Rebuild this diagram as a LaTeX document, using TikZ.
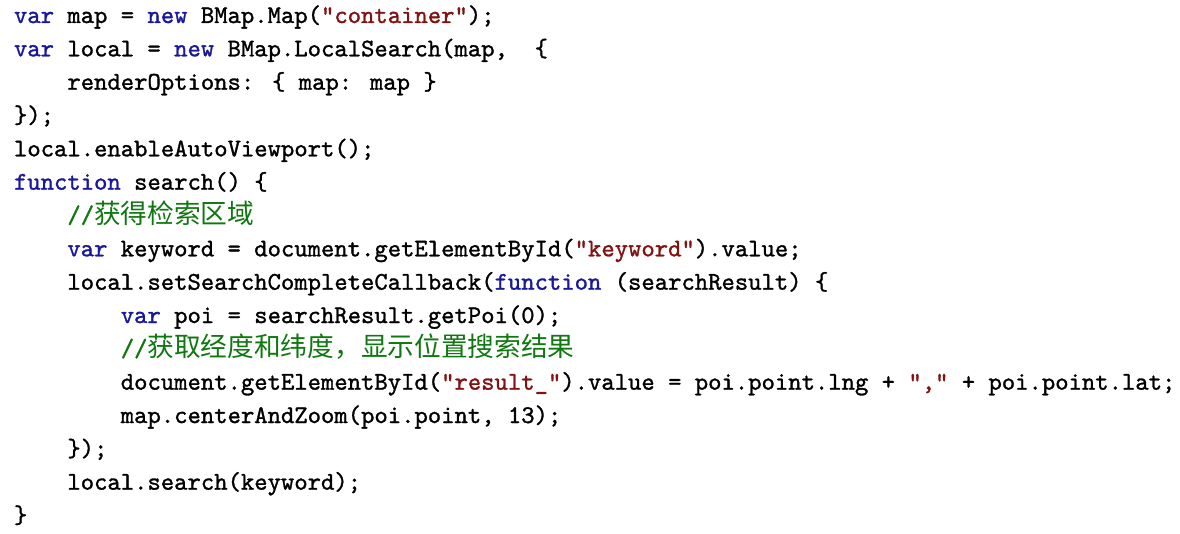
\documentclass[tikz,border=0pt]{standalone}
\usepackage{fontspec}
\newfontfamily\codettf{lmmono10-regular.otf}[FakeBold=1.2]
\newfontfamily\cjk{Noto Sans CJK SC}
\usetikzlibrary{positioning}

\definecolor{kwblue}{RGB}{24,24,156}
\definecolor{strred}{RGB}{130,18,18}
\definecolor{cmtgreen}{RGB}{16,120,16}
\newcommand{\kwd}[1]{\textcolor{kwblue}{#1}}
\newcommand{\strlit}[1]{\textcolor{strred}{#1}}
\newcommand{\cmt}[1]{\textcolor{cmtgreen}{#1}}
\newcommand{\cn}[1]{{\cjk\fontsize{13.35pt}{16pt}\selectfont #1}}

\begin{document}
\begin{tikzpicture}[x=1pt, y=1pt, node distance=16.667pt]
	\tikzset{codeline/.style={anchor=base west, inner sep=0pt, outer sep=0pt,
		font=\codettf\fontsize{12.714pt}{16pt}\selectfont},
		indent/.style={xshift=#1*26.7pt}}
	\fill[white] (0,0) rectangle (590,-267);
	\useasboundingbox (0,0) rectangle (590,-267);
	\node[codeline] (l1) at (7,-11.5) {\kwd{var} map = \kwd{new} BMap.Map(\strlit{"container"});};
	\node (l2) [below=of l1.base west, codeline] {\kwd{var} local = \kwd{new} BMap.LocalSearch(map,~~\{};
	\node (l3) [below=of l2.base west, codeline, indent=1] {renderOptions: \{ map: map \}};
	\node (l4) [below=of l3.base west, codeline, indent=-1] {\});};
	\node (l5) [below=of l4.base west, codeline] {local.enableAutoViewport();};
	\node (l6) [below=of l5.base west, codeline] {\kwd{function} search() \{};
	\node (l7) [below=of l6.base west, codeline, indent=1] {\cmt{//\cn{获得检索区域}}};
	\node (l8) [below=of l7.base west, codeline] {\kwd{var} keyword = document.getElementById(\strlit{"keyword"}).value;};
	\node (l9) [below=of l8.base west, codeline] {local.setSearchCompleteCallback(\kwd{function} (searchResult) \{};
	\node (l10) [below=of l9.base west, codeline, indent=1] {\kwd{var} poi = searchResult.getPoi(0);};
	\node (l11) [below=of l10.base west, codeline] {\cmt{//\cn{获取经度和纬度，显示位置搜索结果}}};
	\node (l12) [below=of l11.base west, codeline] {document.getElementById(\strlit{"result\_"}).value = poi.point.lng + \strlit{","} + poi.point.lat;};
	\node (l13) [below=of l12.base west, codeline] {map.centerAndZoom(poi.point, 13);};
	\node (l14) [below=of l13.base west, codeline, indent=-1] {\});};
	\node (l15) [below=of l14.base west, codeline] {local.search(keyword);};
	\node (l16) [below=of l15.base west, codeline, indent=-1] {\}};
\end{tikzpicture}
\end{document}
